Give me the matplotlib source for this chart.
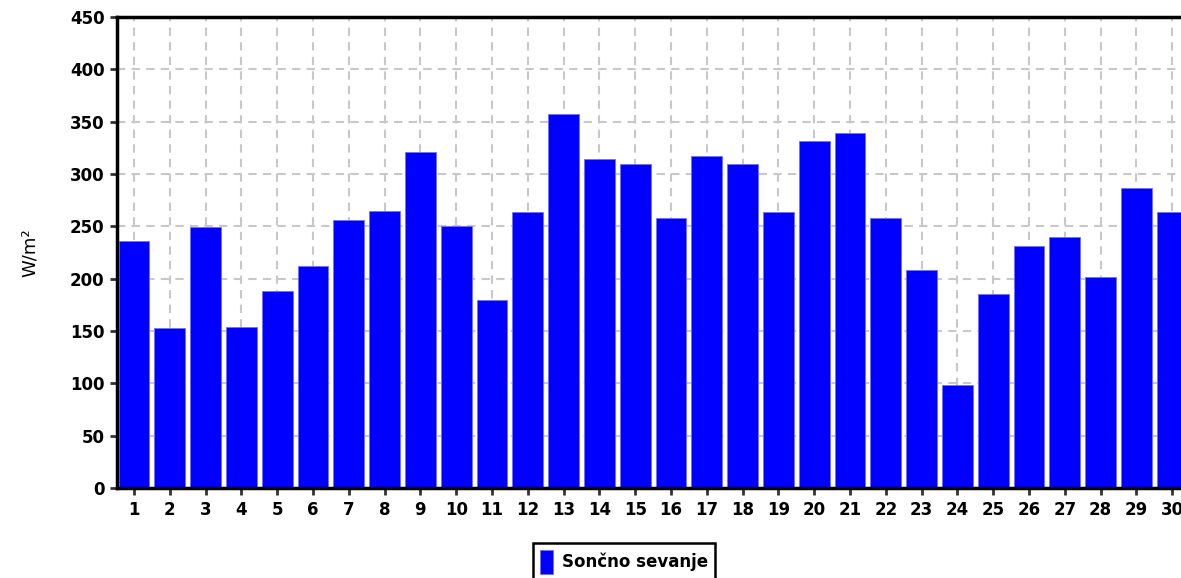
import matplotlib
matplotlib.use("Agg")
import matplotlib.pyplot as plt

# dnevi v mesecu in povprecno soncno sevanje (W/m2)
dnevi = list(range(1, 31))
sevanje = [236, 153, 249, 154, 188, 212, 256, 265, 321, 250,
           180, 264, 357, 314, 310, 258, 317, 310, 264, 332,
           339, 258, 208, 98, 185, 231, 240, 202, 287, 264]
y_ticks = [0, 50, 100, 150, 200, 250, 300, 350, 400, 450]

plt.rcParams['font.family'] = ['DejaVu Sans']

fig = plt.figure(figsize=(11.81, 5.78), dpi=100)
ax = fig.add_axes([0.0991, 0.1557, 0.9086, 0.8149])

bars = ax.bar(dnevi, sevanje, width=0.86, color='#0000ff',
              edgecolor='#7070ff', linewidth=0.6, zorder=2,
              label="Sončno sevanje")

ax.set_xlim(0.525, 30.5)
ax.set_ylim(0, 450)
ax.set_xticks(dnevi)
ax.set_yticks(y_ticks)

# mreza - svetlo siva crtkana
ax.grid(True, color='#c8c8c8', linestyle=(0, (4, 3)), linewidth=1.5, zorder=0)
ax.set_axisbelow(True)

for lbl in ax.get_xticklabels() + ax.get_yticklabels():
    lbl.set_fontweight('bold')
    lbl.set_fontsize(12)
ax.tick_params(axis='both', length=5, width=2, color='#333333', pad=4)

for side in ['left', 'bottom', 'top']:
    ax.spines[side].set_linewidth(2.5)
    ax.spines[side].set_color('black')
ax.spines['right'].set_visible(False)

ax.set_ylabel("W/m²", fontsize=13, labelpad=22)

leg = fig.legend(loc='upper center', bbox_to_anchor=(624 / 1181, 1 - 535 / 578),
                 frameon=True, fancybox=False, edgecolor='black',
                 prop={'size': 12, 'weight': 'bold'},
                 handlelength=0.8, handleheight=1.8, handletextpad=0.5,
                 borderpad=0.4, framealpha=1)
leg.get_frame().set_linewidth(1.8)

plt.savefig("out.png", dpi=100)
plt.close()
